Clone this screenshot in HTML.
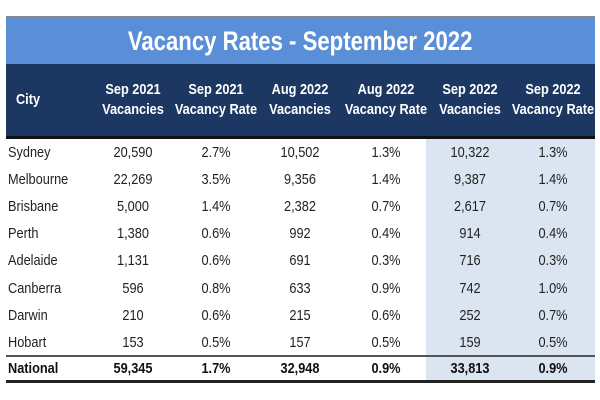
<!DOCTYPE html>
<html><head><meta charset="utf-8">
<style>
body{margin:0;width:600px;height:400px;background:#fff;font-family:"Liberation Sans",sans-serif;position:relative;overflow:hidden}
.abs{position:absolute}
#title{left:6px;top:16px;width:589px;height:48px;background:#5a8fd8;color:#fff;font-weight:bold;font-size:27px;line-height:48px;text-align:center;border-top:1px solid #888}
#title span{display:inline-block;transform:scaleX(0.82)}
#head{left:6px;top:64px;width:589px;height:72px;background:#1c3862;border-bottom:3px solid #111}
.h{position:absolute;color:#fff;font-weight:bold;font-size:15px;line-height:20px;text-align:center;width:100px;top:16px;transform:scaleX(0.85)}
#band{left:426px;top:139px;width:169px;height:241px;background:#dbe5f1}
.c{position:absolute;font-size:15px;color:#222;text-align:center;width:90px;transform:scaleX(0.85);line-height:27px}
.l{text-align:left;transform-origin:left center}
.b{font-weight:bold;color:#111}
</style></head><body>
<div id="title" class="abs"><span>Vacancy Rates - September 2022</span></div>
<div id="head" class="abs">
<div class="h" style="left:-8px;top:26px;width:60px">City</div>
<div class="h" style="left:77px">Sep 2021<br>Vacancies</div>
<div class="h" style="left:160px">Sep 2021<br>Vacancy Rate</div>
<div class="h" style="left:244px">Aug 2022<br>Vacancies</div>
<div class="h" style="left:330px">Aug 2022<br>Vacancy Rate</div>
<div class="h" style="left:414px">Sep 2022<br>Vacancies</div>
<div class="h" style="left:497px">Sep 2022<br>Vacancy Rate</div>
</div>
<div id="band" class="abs"></div>
<div class="abs" style="left:6px;top:355px;width:589px;height:2px;background:#555"></div>
<div class="abs" style="left:6px;top:380px;width:589px;height:3px;background:#222"></div>
<div id="rows"></div>
<script>
const cities=["Sydney","Melbourne","Brisbane","Perth","Adelaide","Canberra","Darwin","Hobart","National"];
const sep21Vac=["20,590","22,269","5,000","1,380","1,131","596","210","153","59,345"];
const sep21Rate=["2.7%","3.5%","1.4%","0.6%","0.6%","0.8%","0.6%","0.5%","1.7%"];
const aug22Vac=["10,502","9,356","2,382","992","691","633","215","157","32,948"];
const aug22Rate=["1.3%","1.4%","0.7%","0.4%","0.3%","0.9%","0.6%","0.5%","0.9%"];
const sep22Vac=["10,322","9,387","2,617","914","716","742","252","159","33,813"];
const sep22Rate=["1.3%","1.4%","0.7%","0.4%","0.3%","1.0%","0.7%","0.5%","0.9%"];
const cols=[sep21Vac,sep21Rate,aug22Vac,aug22Rate,sep22Vac,sep22Rate];
const centers=[133,216,300,386,470,553];
const root=document.getElementById('rows');
cities.forEach((c,i)=>{
  const top=i<8?139+i*27.1:355;
  const bold=i===8;
  const d=document.createElement('div');
  d.className='c l'+(bold?' b':'');
  d.style.left='8px';d.style.top=top+'px';
  d.textContent=c;
  
  
  root.appendChild(d);
  cols.forEach((col,j)=>{
    const e=document.createElement('div');
    e.className='c'+(bold?' b':'');
    e.style.left=(centers[j]-45)+'px';e.style.top=top+'px';
    e.textContent=col[i];
    
    
    root.appendChild(e);
  });
});
</script>
</body></html>
